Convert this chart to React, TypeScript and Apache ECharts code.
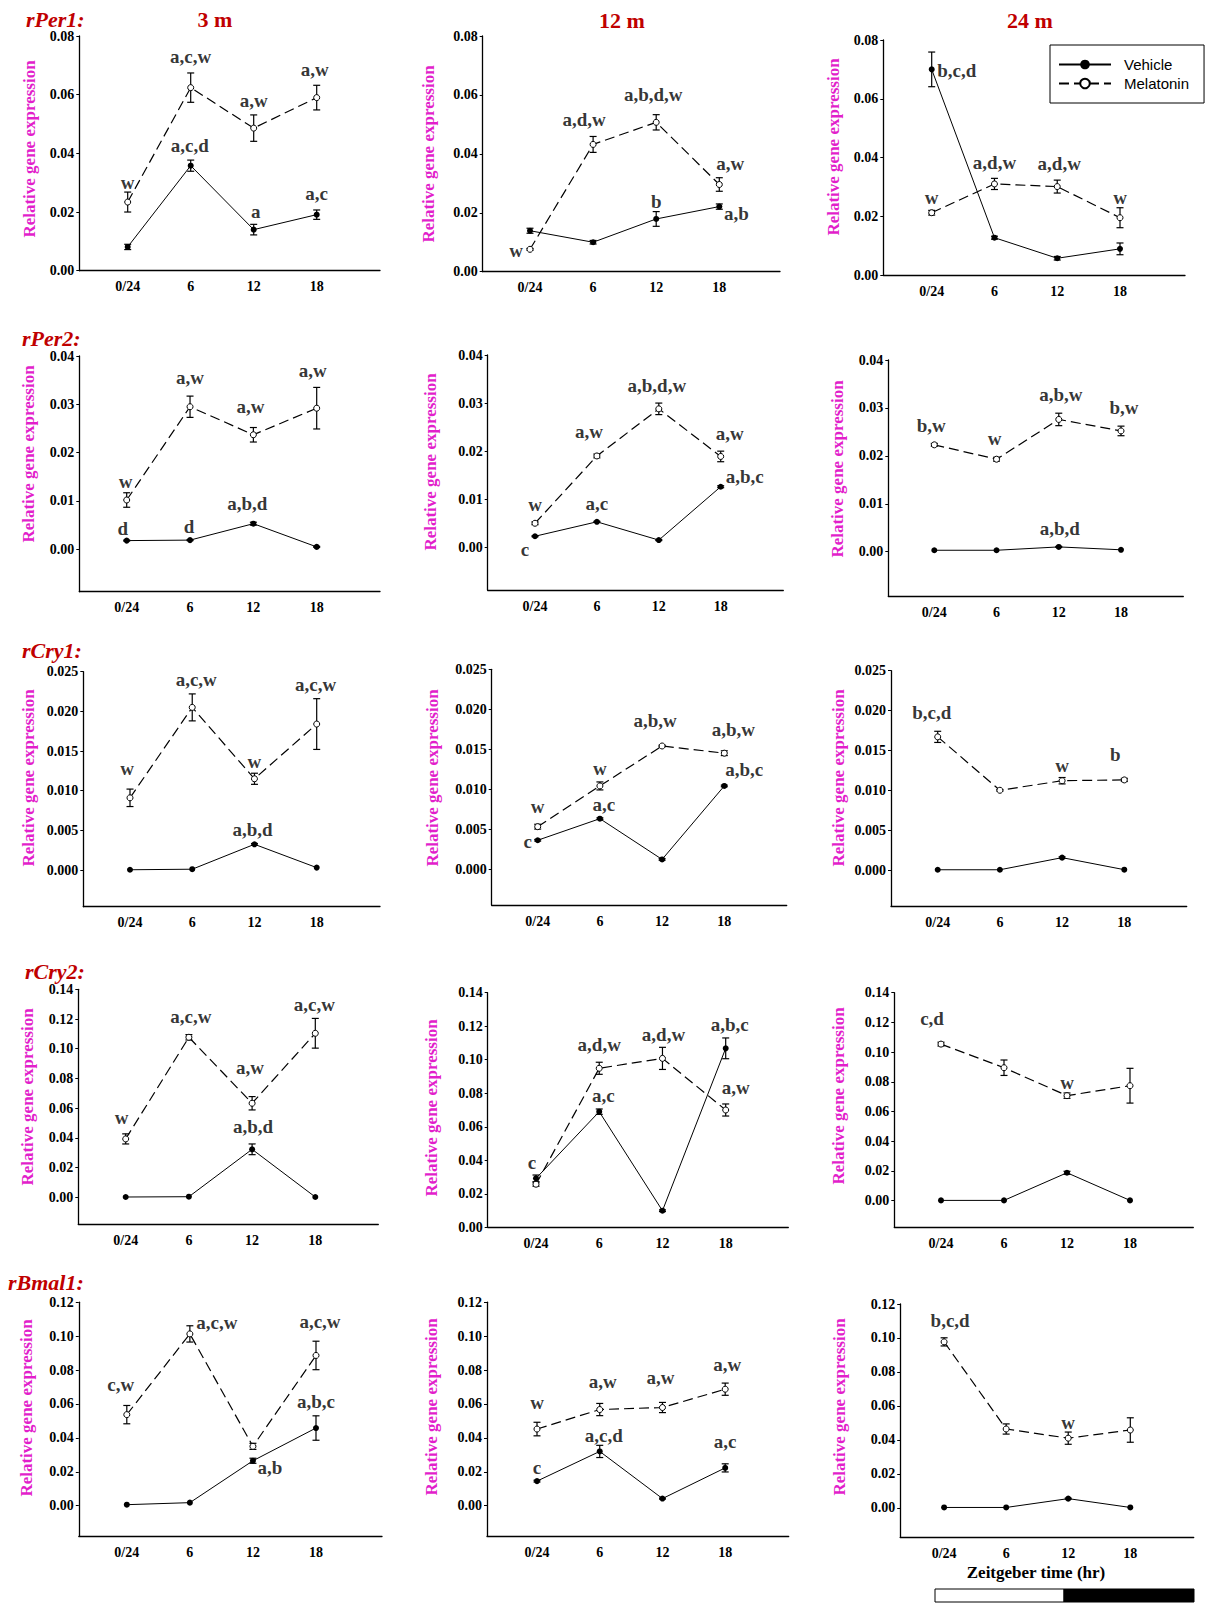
import React, { useEffect, useRef } from 'react';
import * as echarts from 'echarts';

// ---------------- DATA ----------------
const times = [0, 6, 12, 18];
const timeLabels = ['0/24', '6', '12', '18'];
const ages = ['3 m', '12 m', '24 m'];
const genes = ['rPer1:', 'rPer2:', 'rCry1:', 'rCry2:', 'rBmal1:'];

// each array: [3 m, 12 m, 24 m], values at ZT 0/24, 6, 12, 18
const rPer1_vehicle = [[0.0081, 0.0358, 0.014, 0.0191], [0.0139, 0.01, 0.0179, 0.0221], [0.07, 0.0127, 0.0057, 0.0089]];
const rPer1_vehicleSem = [[0.0009, 0.0019, 0.0018, 0.0016], [0.00085, 0.0006, 0.0025, 0.0009], [0.0059, 0.0005, 0.0006, 0.002]];
const rPer1_melatonin = [[0.0234, 0.0624, 0.0486, 0.059], [0.0076, 0.0432, 0.0507, 0.0296], [0.0212, 0.031, 0.0301, 0.0195]];
const rPer1_melatoninSem = [[0.0034, 0.005, 0.0045, 0.0042], [0.0003, 0.0027, 0.0026, 0.0023], [0.0008, 0.0019, 0.0022, 0.0034]];
const rPer1_vehicleSig = [['', 'a,c,d', 'a', 'a,c'], ['', '', 'b', 'a,b'], ['b,c,d', '', '', '']];
const rPer1_melatoninSig = [['w', 'a,c,w', 'a,w', 'a,w'], ['w', 'a,d,w', 'a,b,d,w', 'a,w'], ['w', 'a,d,w', 'a,d,w', 'w']];
const rPer1_ticks = [0, 0.02, 0.04, 0.06, 0.08];

const rPer2_vehicle = [[0.0018, 0.0019, 0.0053, 0.0005], [0.0023, 0.0053, 0.0015, 0.0126], [0.0003, 0.0003, 0.001, 0.0004]];
const rPer2_vehicleSem = [[0.0001, 0.0001, 0.0003, 0.0001], [0.0001, 0.0001, 0.0001, 0.0002], [0, 0, 0.0001, 0]];
const rPer2_melatonin = [[0.0102, 0.0295, 0.0237, 0.0292], [0.005, 0.019, 0.0288, 0.0189], [0.0223, 0.0193, 0.0276, 0.0252]];
const rPer2_melatoninSem = [[0.0015, 0.0022, 0.0015, 0.0043], [0.0003, 0.0004, 0.0012, 0.0011], [0.0003, 0.0004, 0.0013, 0.001]];
const rPer2_vehicleSig = [['d', 'd', 'a,b,d', ''], ['c', 'a,c', '', 'a,b,c'], ['', '', 'a,b,d', '']];
const rPer2_melatoninSig = [['w', 'a,w', 'a,w', 'a,w'], ['w', 'a,w', 'a,b,d,w', 'a,w'], ['b,w', 'w', 'a,b,w', 'b,w']];
const rPer2_ticks = [0, 0.01, 0.02, 0.03, 0.04];

const rCry1_vehicle = [[0.00003, 0.0001, 0.00324, 0.0003], [0.0036, 0.0063, 0.0012, 0.0104], [0.00003, 0.00003, 0.00155, 0.00004]];
const rCry1_vehicleSem = [[0, 0, 0.0001, 0], [0.0001, 0.0001, 0.0001, 0.0001], [0, 0, 0.0001, 0]];
const rCry1_melatonin = [[0.0091, 0.0205, 0.0115, 0.0184], [0.0053, 0.0104, 0.0154, 0.0145], [0.0167, 0.01, 0.0112, 0.0113]];
const rCry1_melatoninSem = [[0.0011, 0.0017, 0.0007, 0.0032], [0.0003, 0.0005, 0.0001, 0.0003], [0.0007, 0.0001, 0.0004, 0.0002]];
const rCry1_vehicleSig = [['', '', 'a,b,d', ''], ['c', 'a,c', '', 'a,b,c'], ['', '', '', '']];
const rCry1_melatoninSig = [['w', 'a,c,w', 'w', 'a,c,w'], ['w', 'w', 'a,b,w', 'a,b,w'], ['b,c,d', '', 'w', 'b']];
const rCry1_ticks = [0, 0.005, 0.01, 0.015, 0.02, 0.025];

const rCry2_vehicle = [[0.0002, 0.0004, 0.0323, 0.0002], [0.0292, 0.069, 0.0099, 0.1068], [0.0002, 0.0002, 0.0188, 0.0002]];
const rCry2_vehicleSem = [[0, 0, 0.0036, 0], [0.002, 0.0016, 0.0005, 0.0062], [0, 0, 0.001, 0]];
const rCry2_melatonin = [[0.0393, 0.1077, 0.0633, 0.1104], [0.0257, 0.0949, 0.1008, 0.07], [0.1054, 0.0895, 0.0707, 0.0774]];
const rCry2_melatoninSem = [[0.0034, 0.0018, 0.0045, 0.01], [0.0012, 0.0036, 0.0066, 0.0036], [0.0013, 0.0052, 0.0018, 0.0117]];
const rCry2_vehicleSig = [['', '', 'a,b,d', ''], ['c', 'a,c', '', 'a,b,c'], ['', '', '', '']];
const rCry2_melatoninSig = [['w', 'a,c,w', 'a,w', 'a,c,w'], ['', 'a,d,w', 'a,d,w', 'a,w'], ['c,d', '', 'w', '']];
const rCry2_ticks = [0, 0.02, 0.04, 0.06, 0.08, 0.1, 0.12, 0.14];

const rBmal1_vehicle = [[0.0006, 0.0018, 0.0265, 0.0458], [0.0145, 0.032, 0.0042, 0.0223], [0.0002, 0.0002, 0.0054, 0.0002]];
const rBmal1_vehicleSem = [[0, 0, 0.0015, 0.0072], [0.0005, 0.0036, 0.0003, 0.0024], [0, 0, 0.0003, 0]];
const rBmal1_melatonin = [[0.0537, 0.1013, 0.035, 0.0886], [0.0452, 0.0567, 0.0579, 0.0687], [0.0977, 0.0464, 0.041, 0.0458]];
const rBmal1_melatoninSem = [[0.0054, 0.0048, 0.0018, 0.0084], [0.004, 0.0036, 0.003, 0.0036], [0.0024, 0.003, 0.0036, 0.0072]];
const rBmal1_vehicleSig = [['', '', 'a,b', 'a,b,c'], ['c', 'a,c,d', '', 'a,c'], ['', '', '', '']];
const rBmal1_melatoninSig = [['c,w', 'a,c,w', '', 'a,c,w'], ['w', 'a,w', 'a,w', 'a,w'], ['b,c,d', '', 'w', '']];
const rBmal1_ticks = [0, 0.02, 0.04, 0.06, 0.08, 0.1, 0.12];

const geneTable = [
  { veh: rPer1_vehicle, vehSem: rPer1_vehicleSem, mel: rPer1_melatonin, melSem: rPer1_melatoninSem, vehSig: rPer1_vehicleSig, melSig: rPer1_melatoninSig, ticks: rPer1_ticks, dec: 2 },
  { veh: rPer2_vehicle, vehSem: rPer2_vehicleSem, mel: rPer2_melatonin, melSem: rPer2_melatoninSem, vehSig: rPer2_vehicleSig, melSig: rPer2_melatoninSig, ticks: rPer2_ticks, dec: 2 },
  { veh: rCry1_vehicle, vehSem: rCry1_vehicleSem, mel: rCry1_melatonin, melSem: rCry1_melatoninSem, vehSig: rCry1_vehicleSig, melSig: rCry1_melatoninSig, ticks: rCry1_ticks, dec: 3 },
  { veh: rCry2_vehicle, vehSem: rCry2_vehicleSem, mel: rCry2_melatonin, melSem: rCry2_melatoninSem, vehSig: rCry2_vehicleSig, melSig: rCry2_melatoninSig, ticks: rCry2_ticks, dec: 2 },
  { veh: rBmal1_vehicle, vehSem: rBmal1_vehicleSem, mel: rBmal1_melatonin, melSem: rBmal1_melatoninSem, vehSig: rBmal1_vehicleSig, melSig: rBmal1_melatoninSig, ticks: rBmal1_ticks, dec: 2 },
];

// ---------------- LAYOUT ----------------
// [axisLeft, axisRight, topTickY, zeroY, bottomY, xPos(ZT0), xPos(ZT18)]
const PANELS = [
  [79.3, 380, 36, 270.7, 270.7, 127.7, 316.7],
  [482.7, 780, 36, 271.7, 271.7, 530, 719.3],
  [883.3, 1185, 40, 275, 275, 931.7, 1120],
  [79.3, 380, 356, 549.3, 591.7, 126.7, 316.7],
  [487.7, 783.3, 355, 547.3, 590, 535, 720.7],
  [888.3, 1183.3, 360, 551.7, 596, 934.3, 1121],
  [83.3, 380, 671.7, 870, 906.7, 130, 316.7],
  [491.7, 786.7, 669.3, 869, 905, 537.7, 724.3],
  [891, 1186.7, 670.7, 870, 906, 937.7, 1124.3],
  [78.3, 378.3, 989.3, 1197.3, 1224.3, 125.7, 315.3],
  [487.7, 788.3, 992.7, 1227.3, 1227.3, 536, 725.7],
  [894.3, 1193.3, 992.7, 1200.7, 1227.3, 941, 1130],
  [78.8, 382, 1302.2, 1505.7, 1536, 126.8, 316],
  [487, 788.7, 1302.2, 1505.7, 1536, 537, 725.2],
  [900.2, 1193.7, 1304, 1507.8, 1537.4, 944.1, 1130.3],
];

// label offsets [dx, dy] in px from the data point
const VEH_OFF = [
  [[0, -20], [-1, -20], [2, -18], [0, -21]],
  [[0, -20], [0, -20], [0, -17], [17, 7]],
  [[25, 1], [0, -20], [0, -20], [0, -20]],
  [[-4, -12], [-1, -14], [-6, -20], [0, -20]],
  [[-10, 13], [0, -18], [0, -20], [24, -10]],
  [[0, -18], [0, -18], [1, -18], [0, -18]],
  [[0, -15], [0, -15], [-2, -15], [0, -15]],
  [[-10, 1], [4, -14], [0, -15], [20, -16]],
  [[0, -15], [0, -15], [0, -15], [0, -15]],
  [[0, -20], [0, -20], [1, -23], [0, -20]],
  [[-4, -16], [4, -16], [0, -16], [4, -24]],
  [[0, -20], [0, -20], [0, -20], [0, -20]],
  [[0, -20], [0, -20], [17, 7], [0, -27]],
  [[0, -14], [4, -16], [0, -16], [0, -26]],
  [[0, -20], [0, -20], [0, -20], [0, -20]],
];
const MEL_OFF = [
  [[0, -20], [0, -31], [0, -28], [-2, -28]],
  [[-14, 1], [-9, -25], [-3, -28], [11, -21]],
  [[0, -15], [0, -21], [2, -23], [0, -20]],
  [[-1, -19], [0, -29], [-3, -28], [-4, -38]],
  [[0, -19], [-8, -24], [-2, -23], [9, -23]],
  [[-3, -19], [-2, -21], [2, -25], [3, -23]],
  [[-3, -29], [4, -28], [0, -17], [-1, -40]],
  [[0, -20], [0, -17], [-7, -25], [9, -24]],
  [[-6, -24], [0, -20], [0, -15], [-9, -25]],
  [[-4, -21], [2, -21], [-2, -36], [-1, -29]],
  [[0, -20], [0, -24], [1, -24], [10, -23]],
  [[-9, -26], [0, -20], [0, -13], [0, -20]],
  [[-6, -30], [27, -11], [0, -20], [4, -34]],
  [[0, -27], [3, -28], [-2, -30], [2, -25]],
  [[6, -21], [0, -20], [0, -16], [0, -20]],
];

const GENE_POS = [[26, 19], [22, 338], [22, 650], [25, 971], [8, 1282]];
const AGE_POS = [[215, 19], [622, 20], [1030, 20]];
const YNAME_POS = [
  [29, 149], [428, 154], [833, 147],
  [28, 454], [430, 462], [837, 469],
  [28, 778], [432, 778], [838, 778],
  [27, 1097], [431, 1108], [838, 1096],
  [26, 1408], [431, 1407], [839, 1407],
];

const SERIF = '"Liberation Serif", "Times New Roman", serif';
const RED = '#c00000';
const MAGENTA = '#e21fcb';

function errorSeries(idx: number, mean: number[], sem: number[]) {
  const data = times
    .map((t, i) => [t, mean[i] - sem[i], mean[i] + sem[i], sem[i]])
    .filter((d) => d[3] > 0);
  return {
    type: 'custom',
    xAxisIndex: idx,
    yAxisIndex: idx,
    silent: true,
    z: 1,
    encode: { x: 0, y: [1, 2] },
    data,
    renderItem: (params: any, api: any) => {
      const x = api.value(0);
      const lo = api.coord([x, api.value(1)]);
      const hi = api.coord([x, api.value(2)]);
      const w = 3.5;
      const style = { stroke: '#000', lineWidth: 1.2 };
      return {
        type: 'group',
        children: [
          { type: 'line', shape: { x1: lo[0], y1: lo[1], x2: hi[0], y2: hi[1] }, style },
          { type: 'line', shape: { x1: lo[0] - w, y1: lo[1], x2: lo[0] + w, y2: lo[1] }, style },
          { type: 'line', shape: { x1: hi[0] - w, y1: hi[1], x2: hi[0] + w, y2: hi[1] }, style },
        ],
      };
    },
  };
}

function labelSeries(idx: number, mean: number[], sig: string[], offs: number[][]) {
  const data: any[] = [];
  times.forEach((t, i) => {
    if (!sig[i]) return;
    data.push({
      value: [t, mean[i]],
      label: { formatter: sig[i], offset: offs[i] },
    });
  });
  return {
    type: 'scatter',
    xAxisIndex: idx,
    yAxisIndex: idx,
    symbolSize: 0,
    silent: true,
    z: 5,
    label: {
      show: true,
      position: 'inside',
      color: '#000',
      fontFamily: SERIF,
      fontWeight: 'bold',
      fontSize: 19,
    },
    emphasis: { disabled: true },
    data,
  };
}

function buildOption() {
  const grid: any[] = [];
  const xAxis: any[] = [];
  const yAxis: any[] = [];
  const series: any[] = [];
  const graphic: any[] = [];

  geneTable.forEach((g, r) => {
    for (let c = 0; c < 3; c++) {
      const idx = r * 3 + c;
      const [left, right, top, zero, bottom, p0, p18] = PANELS[idx];
      const step = (p18 - p0) / 18;
      const xMin = -(p0 - left) / step;
      const xMax = 18 + (right - p18) / step;
      const yMax = g.ticks[g.ticks.length - 1];
      const yMin = -((bottom - zero) / (zero - top)) * yMax;

      grid.push({ left, top, width: right - left, height: bottom - top, containLabel: false });
      xAxis.push({
        type: 'value',
        gridIndex: idx,
        min: xMin,
        max: xMax,
        axisLine: { show: true, onZero: false, lineStyle: { color: '#000', width: 1.3 } },
        axisTick: { show: false },
        splitLine: { show: false },
        axisLabel: {
          customValues: times,
          formatter: (v: number) => timeLabels[times.indexOf(Math.round(v))] ?? '',
          color: '#000',
          fontFamily: SERIF,
          fontWeight: 'bold',
          fontSize: 14,
          margin: 9,
        },
      });
      yAxis.push({
        type: 'value',
        gridIndex: idx,
        min: yMin,
        max: yMax,
        axisLine: { show: true, onZero: false, lineStyle: { color: '#000', width: 1.3 } },
        axisTick: { show: true, customValues: g.ticks, length: 3, lineStyle: { color: '#000', width: 1 } },
        splitLine: { show: false },
        axisLabel: {
          customValues: g.ticks,
          formatter: (v: number) => v.toFixed(g.dec),
          color: '#000',
          fontFamily: SERIF,
          fontWeight: 'bold',
          fontSize: 14,
          margin: 5,
        },
      });

      series.push(errorSeries(idx, g.veh[c], g.vehSem[c]));
      series.push(errorSeries(idx, g.mel[c], g.melSem[c]));
      series.push({
        type: 'line',
        name: 'Vehicle',
        xAxisIndex: idx,
        yAxisIndex: idx,
        data: times.map((t, i) => [t, g.veh[c][i]]),
        symbol: 'circle',
        symbolSize: 6,
        showSymbol: true,
        itemStyle: { color: '#000' },
        lineStyle: { color: '#000', width: 1 },
        emphasis: { disabled: true },
        silent: true,
        z: 3,
      });
      series.push({
        type: 'line',
        name: 'Melatonin',
        xAxisIndex: idx,
        yAxisIndex: idx,
        data: times.map((t, i) => [t, g.mel[c][i]]),
        symbol: 'circle',
        symbolSize: 6,
        showSymbol: true,
        itemStyle: { color: '#fff', borderColor: '#000', borderWidth: 1 },
        lineStyle: { color: '#000', width: 1.2, type: [10, 5] },
        emphasis: { disabled: true },
        silent: true,
        z: 3,
      });
      series.push(labelSeries(idx, g.veh[c], g.vehSig[c], VEH_OFF[idx]));
      series.push(labelSeries(idx, g.mel[c], g.melSig[c], MEL_OFF[idx]));

      const [nx, ny] = YNAME_POS[idx];
      graphic.push({
        type: 'text',
        x: nx,
        y: ny,
        rotation: Math.PI / 2,
        style: {
          text: 'Relative gene expression',
          fill: MAGENTA,
          fontFamily: SERIF,
          fontWeight: 'bold',
          fontSize: 17,
          textAlign: 'center',
          textVerticalAlign: 'middle',
          verticalAlign: 'middle',
        },
      });
    }
    const [gx, gy] = GENE_POS[r];
    graphic.push({
      type: 'text',
      x: gx,
      y: gy,
      style: {
        text: genes[r],
        fill: RED,
        fontFamily: SERIF,
        fontWeight: 'bold',
        fontStyle: 'italic',
        fontSize: 22,
        textAlign: 'left',
        textVerticalAlign: 'middle',
        verticalAlign: 'middle',
      },
    });
  });

  ages.forEach((a, i) => {
    const [ax, ay] = AGE_POS[i];
    graphic.push({
      type: 'text',
      x: ax,
      y: ay,
      style: {
        text: a,
        fill: RED,
        fontFamily: SERIF,
        fontWeight: 'bold',
        fontSize: 22,
        textAlign: 'center',
        textVerticalAlign: 'middle',
        verticalAlign: 'middle',
      },
    });
  });

  graphic.push({
    type: 'text',
    x: 1036,
    y: 1572,
    style: {
      text: 'Zeitgeber time (hr)',
      fill: '#000',
      fontFamily: SERIF,
      fontWeight: 'bold',
      fontSize: 17,
      textAlign: 'center',
      textVerticalAlign: 'middle',
      verticalAlign: 'middle',
    },
  });
  graphic.push({
    type: 'rect',
    shape: { x: 935, y: 1589, width: 129, height: 13 },
    style: { fill: '#fff', stroke: '#000', lineWidth: 1 },
  });
  graphic.push({
    type: 'rect',
    shape: { x: 1064, y: 1589, width: 130, height: 13 },
    style: { fill: '#000', stroke: '#000', lineWidth: 1 },
  });

  return {
    animation: false,
    backgroundColor: '#fff',
    grid,
    xAxis,
    yAxis,
    series,
    graphic,
    legend: {
      data: ['Vehicle', 'Melatonin'],
      orient: 'vertical',
      left: 1050,
      top: 45,
      itemWidth: 52,
      itemHeight: 12,
      itemGap: 4,
      padding: [12, 15, 12, 8],
      borderColor: '#000',
      borderWidth: 1,
      selectedMode: false,
      textStyle: { fontFamily: '"Liberation Sans", Arial, sans-serif', fontSize: 15, color: '#000', padding: [0, 0, 0, 8] },
    },
  };
}

export default function App() {
  const ref = useRef<HTMLDivElement>(null);
  useEffect(() => {
    if (!ref.current) return;
    const chart = echarts.init(ref.current, null, { renderer: 'svg' });
    chart.setOption(buildOption() as any);
    return () => chart.dispose();
  }, []);
  return (
    <div
      ref={ref}
      style={{ position: 'absolute', left: 0, top: 0, width: 1207, height: 1604, background: '#fff' }}
    />
  );
}
